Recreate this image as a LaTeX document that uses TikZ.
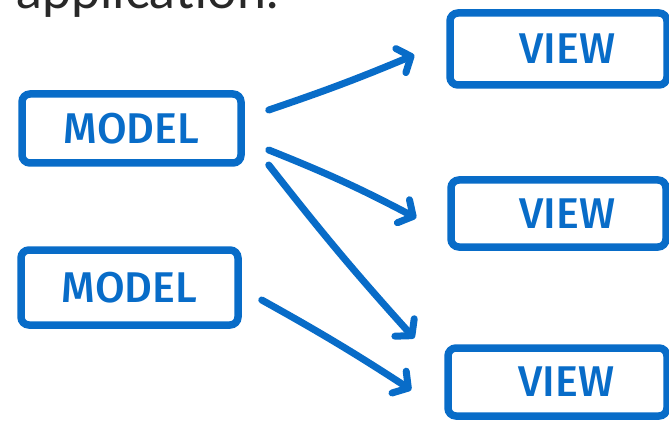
\documentclass[tikz,border=0pt]{standalone}
\usepackage{fontspec}
\setmainfont{Fira Sans}
\newfontfamily\labelfont{Fira Sans Medium}
\newfontfamily\headfont{Lato}
\usetikzlibrary{arrows.meta}
\definecolor{sketchblue}{RGB}{8,108,200}
\definecolor{headgray}{RGB}{40,40,40}
\tikzset{
  sketchbox/.style={draw=sketchblue, line width=7.5pt, rounded corners=8pt,
    font=\labelfont\fontsize{43}{43}\selectfont, text=sketchblue, inner sep=0pt},
  sketcharrow/.style={draw=sketchblue, line width=7pt, line cap=round,
    -{Straight Barb[length=11pt, width=26pt, round]}}
}
\begin{document}
\begin{tikzpicture}[x=1pt,y=-1pt]
\useasboundingbox (0,0) rectangle (669,422);
\node[anchor=base west, inner sep=0pt, text=headgray, font=\headfont\fontsize{52}{52}\selectfont] (head) at (16,9) {application.};
\node[sketchbox, minimum width=219pt, minimum height=69pt] (m1) at (131.5,128.5) {MODEL};
\node[sketchbox, minimum width=217pt, minimum height=75pt] (m2) at (129.5,287.5) {MODEL};
\node[sketchbox, minimum width=217pt, minimum height=72pt] (v1) at (558.5,49) {\hspace*{18pt}VIEW};
\node[sketchbox, minimum width=215pt, minimum height=67pt] (v2) at (558.5,213.5) {\hspace*{18pt}VIEW};
\node[sketchbox, minimum width=219pt, minimum height=68pt] (v3) at (557.5,382) {\hspace*{18pt}VIEW};
\draw[sketcharrow] ([xshift=24pt,yshift=18.5pt]m1.east) to[bend right=2] ([xshift=-32pt,yshift=-6pt]v1.west);
\draw[sketcharrow] ([xshift=24pt,yshift=-21.5pt]m1.east) to[bend left=3] ([xshift=-31pt,yshift=-4.5pt]v2.west);
\draw[sketcharrow] ([xshift=24pt,yshift=-36.5pt]m1.east) to[bend right=2] ([xshift=-30pt,yshift=6pt]v3.north west);
\draw[sketcharrow] ([xshift=20pt,yshift=-12.5pt]m2.east) to[bend left=2] ([xshift=-33pt,yshift=-8pt]v3.west);
\end{tikzpicture}
\end{document}
